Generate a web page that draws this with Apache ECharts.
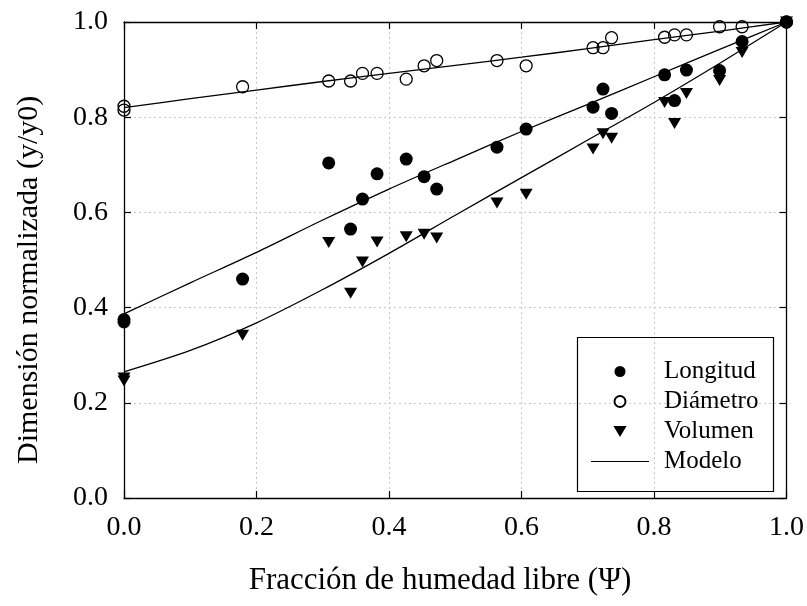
<!DOCTYPE html>
<html><head><meta charset="utf-8">
<script src="https://cdn.jsdelivr.net/npm/echarts@6/dist/echarts.min.js"></script>
<style>html,body{margin:0;padding:0;background:#fff}#c{width:807px;height:606px}</style>
</head><body><div id="c"></div>
<script>
const psi = [0, 0, 0.179, 0.309, 0.342, 0.360, 0.382, 0.426, 0.453, 0.472, 0.563, 0.607, 0.708, 0.723, 0.736, 0.816, 0.831, 0.849, 0.899, 0.933, 1.0];
const longitud = [0.375, 0.370, 0.460, 0.704, 0.565, 0.628, 0.681, 0.712, 0.675, 0.649, 0.737, 0.775, 0.821, 0.859, 0.808, 0.889, 0.835, 0.899, 0.898, 0.959, 1.0];
const diametro = [0.823, 0.815, 0.864, 0.876, 0.876, 0.892, 0.892, 0.880, 0.908, 0.919, 0.919, 0.908, 0.946, 0.946, 0.967, 0.968, 0.973, 0.973, 0.990, 0.990, 1.0];
const volumen = [0.252, 0.246, 0.342, 0.537, 0.430, 0.496, 0.538, 0.549, 0.554, 0.546, 0.620, 0.638, 0.733, 0.765, 0.756, 0.831, 0.787, 0.850, 0.877, 0.936, 1.0];
const modelPsi = [0, 0.1, 0.2, 0.3, 0.4, 0.5, 0.6, 0.7, 0.8, 0.9, 1.0];
const modelLongitud = [0.387, 0.452, 0.516, 0.584, 0.649, 0.710, 0.770, 0.827, 0.885, 0.943, 1.0];
const modelDiametro = [0.820, 0.839, 0.857, 0.875, 0.892, 0.909, 0.926, 0.944, 0.963, 0.981, 1.0];
const modelVolumen = [0.265, 0.310, 0.368, 0.438, 0.514, 0.594, 0.673, 0.752, 0.831, 0.914, 1.0];
const tickLabels = ['0.0', '0.2', '0.4', '0.6', '0.8', '1.0'];

const FONT = '"Liberation Serif", "Times New Roman", serif';
const pairs = (xs, ys) => xs.map((x, i) => [x, ys[i]]);
const fmt = v => tickLabels[Math.round(v / 0.2)];

const chart = echarts.init(document.getElementById('c'), null, {renderer: 'canvas'});
const axisCommon = {
  type: 'value', min: 0, max: 1, interval: 0.2,
  axisLine: {show: true, onZero: false, lineStyle: {color: '#000', width: 1.3}},
  axisTick: {show: true, inside: true, length: 7, lineStyle: {color: '#000', width: 1.2}},
};
const modelLine = {type: 'line', symbol: 'none', smooth: 0.3,
  lineStyle: {color: '#000', width: 1.3}, itemStyle: {color: '#000'}, z: 2};
chart.setOption({
  animation: false,
  grid: {left: 124, right: 20, top: 22, bottom: 108},
  xAxis: [
    Object.assign({}, axisCommon, {
      position: 'bottom',
      axisLabel: {formatter: fmt, color: '#000', fontFamily: FONT, fontSize: 28, margin: 16},
      splitLine: {show: true, lineStyle: {color: '#c8c8c8', type: [2, 3], width: 1}}
    }),
    Object.assign({}, axisCommon, {position: 'top', axisLabel: {show: false}, splitLine: {show: false}})
  ],
  yAxis: [
    Object.assign({}, axisCommon, {
      position: 'left',
      axisLabel: {formatter: fmt, color: '#000', fontFamily: FONT, fontSize: 28, margin: 16},
      splitLine: {show: true, lineStyle: {color: '#c8c8c8', type: [2, 3], width: 1}}
    }),
    Object.assign({}, axisCommon, {position: 'right', axisLabel: {show: false}, splitLine: {show: false}})
  ],
  legend: {
    orient: 'vertical', left: 591, top: 359, padding: 0, itemGap: 5,
    itemWidth: 58, itemHeight: 11, symbolRotate: 0, symbolKeepAspect: true,
    data: [
      {name: 'Longitud', icon: 'circle'},
      {name: 'Diámetro', icon: 'circle'},
      {name: 'Volumen', icon: 'path://M0,0L12,0L6,10Z'},
      {name: 'Modelo', icon: 'path://M0,0L100,0L100,2L0,2Z'}
    ],
    textStyle: {fontFamily: FONT, fontSize: 25, color: '#000', lineHeight: 25, padding: [0, 0, 0, 10]}
  },
  graphic: [
    {type: 'rect', shape: {x: 577.5, y: 337.5, width: 196, height: 154}, style: {fill: 'none', stroke: '#000', lineWidth: 1.2}, z: 50},
    {type: 'text', x: 440, y: 565, style: {text: 'Fracción de humedad libre (Ψ)', fontFamily: FONT, fontSize: 31, fill: '#000', textAlign: 'center'}},
    {type: 'text', x: 14, y: 464, rotation: Math.PI / 2, style: {text: 'Dimensión normalizada (y/y0)', fontFamily: FONT, fontSize: 30, fill: '#000'}}
  ],
  series: [
    Object.assign({name: 'Modelo', data: pairs(modelPsi, modelLongitud)}, modelLine),
    Object.assign({name: 'Modelo', data: pairs(modelPsi, modelDiametro)}, modelLine),
    Object.assign({name: 'Modelo', data: pairs(modelPsi, modelVolumen)}, modelLine),
    {name: 'Longitud', type: 'scatter', data: pairs(psi, longitud), symbol: 'circle', symbolSize: 13,
      itemStyle: {color: '#000', opacity: 1}, z: 3},
    {name: 'Diámetro', type: 'scatter', data: pairs(psi, diametro), symbol: 'circle', symbolSize: 12,
      itemStyle: {color: 'rgba(255,255,255,0)', borderColor: '#000', borderWidth: 1.3, opacity: 1}, z: 3},
    {name: 'Volumen', type: 'scatter', data: pairs(psi, volumen), symbol: 'triangle', symbolRotate: 180, symbolSize: [13, 11],
      itemStyle: {color: '#000', opacity: 1}, z: 3}
  ]
});
</script></body></html>
